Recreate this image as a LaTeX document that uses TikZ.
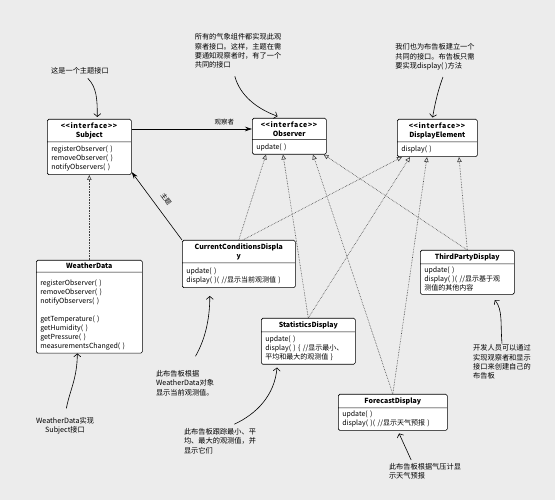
\documentclass[tikz,border=0pt]{standalone}
\usepackage{fontspec}
\newfontfamily\cjk{Noto Sans CJK SC}
\usetikzlibrary{arrows.meta,shapes.multipart}
\definecolor{nen}{RGB}{236,236,236}
\tikzset{
  cls/.style={rectangle split, rectangle split parts=2, draw, semithick, fill=white,
    rounded corners=1.5pt, anchor=north west, inner xsep=4pt, inner ysep=2.8pt,
    font=\cjk\fontsize{7}{9}\selectfont},
  note/.style={font=\cjk\fontsize{7.2}{9.3}\selectfont, align=left, inner sep=1pt},
  impl/.style={densely dotted, semithick, black!75, -{Triangle[open,length=5pt,width=4.5pt]}},
  assoc/.style={semithick, -{Stealth[length=7pt,width=4.5pt]}},
  callout/.style={semithick, -{Straight Barb[length=3pt,width=7pt]}},
}
\def\iface{{\addfontfeature{LetterSpace=9}\textbf{<<interface>>}}}
\def\endm{\par\vspace{5pt}}
\begin{document}
\begin{tikzpicture}[>=stealth,x=1pt,y=1pt]
\fill[nen] (0,0) rectangle (555,500);
% cac lop
\node[cls, text width=76pt] (subj) at (47,381) {\centering\iface\\\textbf{Subject}\par\nodepart{two}\raggedright\rule{0pt}{7pt}registerObserver( )\\removeObserver( )\\notifyObservers( )\endm};
\node[cls, text width=66pt] (obs) at (252,382) {\centering\iface\\\textbf{Observer}\par\nodepart{two}\raggedright\rule{0pt}{7pt}update( )\endm};
\node[cls, text width=72pt] (de) at (397,381) {\centering\iface\\\textbf{DisplayElement}\par\nodepart{two}\raggedright\rule{0pt}{7pt}display( )\endm};
\node[cls, text width=98pt] (wd) at (36,240) {\centering\textbf{WeatherData}\par\nodepart{two}\raggedright\rule{0pt}{10pt}registerObserver( )\\removeObserver( )\\notifyObservers( )\\[9pt]getTemperature( )\\getHumidity( )\\getPressure( )\\measurementsChanged( )\par\vspace{8pt}};
\node[cls, text width=105pt] (ccd) at (182,260) {\centering\textbf{CurrentConditionsDispla}\\\textbf{y}\par\nodepart{two}\raggedright\rule{0pt}{8pt}update( )\\display( )( //显示当前观测值 )\endm};
\node[cls, text width=86pt] (stats) at (261,182) {\centering\textbf{StatisticsDisplay}\par\nodepart{two}\raggedright\rule{0pt}{7pt}update( )\\display( ) \{ //显示最小、\\平均和最大的观测值 \}\endm};
\node[cls, text width=86pt] (tp) at (420,250) {\centering\textbf{ThirdPartyDisplay}\par\nodepart{two}\raggedright update( )\\display( )( //显示基于观\\测值的其他内容\endm};
\node[cls, text width=101pt] (fc) at (338,106) {\centering\textbf{ForecastDisplay}\par\nodepart{two}\raggedright update( )\\display( )( //显示天气预报 )\endm};
% ghi chu
\node[note] (n1) at (80,429) {这是一个主题接口};
\node[note] (n2) at (238,449) {所有的气象组件都实现此观\\察者接口。这样，主题在需\\要通知观察者时，有了一个\\共同的接口};
\node[note] (n3) at (435,443) {我们也为布告板建立一个\\共同的接口。布告板只需\\要实现display( )方法};
\node[note, align=center] (n4) at (65,74) {WeatherData实现\\Subject接口};
\node[note] (n5) at (185,117) {此布告板根据\\WeatherData对象\\显示当前观测值。};
\node[note] (n6) at (220,59) {此布告板跟踪最小、平\\均、最大的观测值，并\\显示它们};
\node[note] (n7) at (425,29) {此布告板根据气压计显\\示天气预报};
\node[note] (n8) at (502,138) {开发人员可以通过\\实现观察者和显示\\接口来创建自己的\\布告板};
% quan he
\draw[assoc] ([yshift=-10pt]subj.north east) -- node[above, pos=0.77, font=\cjk\fontsize{6.5}{8}\selectfont]{观察者} ([yshift=-11pt]obs.north west);
\draw[assoc] (ccd.north west) -- node[sloped, above=5pt, pos=0.5, font=\cjk\fontsize{6.5}{8}\selectfont]{主题} ([yshift=3pt]subj.south east);
\draw[impl] (wd.north) -- (subj.south);
\draw[impl] (ccd.north) -- ([xshift=14pt]obs.south west);
\draw[impl] ([xshift=4pt]ccd.north) -- ([xshift=5pt]de.south west);
\draw[impl] (stats.north) -- ([xshift=31pt]obs.south west);
\draw[impl] (stats.north) -- ([xshift=13pt]de.south west);
\draw[impl] (fc.north) -- ([xshift=61pt]obs.south west);
\draw[impl] (fc.north) -- ([xshift=30pt]de.south west);
\draw[impl] (tp.north) -- ([xshift=-3pt]obs.south east);
\draw[impl] (tp.north) -- ([xshift=62pt]de.south west);
% mui ten ghi chu
\draw[callout, shorten <=4pt] ([xshift=5pt]n1.south) to[out=-45,in=90] ([xshift=8pt,yshift=2pt]subj.north);
\draw[callout, shorten <=7pt, shorten >=5pt] ([xshift=-5pt]n2.south) to[out=-75,in=160] ([xshift=-7pt]obs.north);
\draw[callout, shorten <=6pt, shorten >=1.5pt] ([xshift=10pt]n3.south) to[out=-110,in=80] ([xshift=-5pt]de.north);
\draw[callout, shorten <=8pt] (n4.north) to[out=80,in=-90] ([xshift=-12pt]wd.south);
\draw[callout, shorten <=15pt, shorten >=8pt] ([xshift=3pt]n5.north) to[out=60,in=-90] ([xshift=-29pt]ccd.south);
\draw[callout, shorten <=7pt, shorten >=3pt] ([xshift=8pt]n6.north) to[out=25,in=-95] ([xshift=-31pt]stats.south);
\draw[callout, shorten <=2pt, shorten >=3pt] ([xshift=-13pt]n7.north) -- ([xshift=5pt]fc.south);
\draw[callout, shorten >=7pt] (n8.north) to[out=95,in=-50] ([xshift=23pt]tp.south);
\end{tikzpicture}
\end{document}
